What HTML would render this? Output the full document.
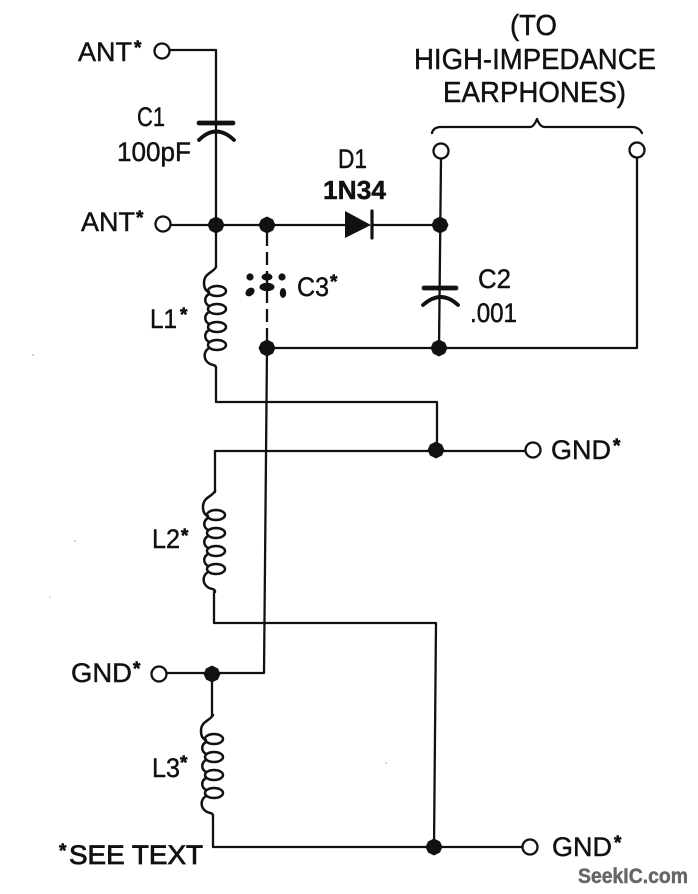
<!DOCTYPE html>
<html><head><meta charset="utf-8"><style>
html,body{margin:0;padding:0;background:#fff;width:698px;height:894px;overflow:hidden}
svg{display:block}
text{font-family:"Liberation Sans",sans-serif;fill:#111;font-size:27px;stroke:#111;stroke-width:.45px}
.s{font-weight:bold;font-size:19px;stroke:#111;stroke-width:.6px}
.w{fill:none;stroke:#111;stroke-width:2.3;stroke-linejoin:round;stroke-linecap:round}
.p{fill:none;stroke:#111;stroke-width:4.8;stroke-linecap:round}
.c{fill:#fff;stroke:#111;stroke-width:2.3}
.d{fill:#111;stroke:none}
</style></head><body>
<svg width="698" height="894" viewBox="0 0 698 894" xmlns="http://www.w3.org/2000/svg">
<defs>
<g id="coil" fill="none" stroke="#111" stroke-width="2.5" stroke-linecap="round">
<path d="M0,0 C-3,6 -12,6 -12,16 C-12,21 -10,24 -7,25"/>
<ellipse cx="1" cy="24" rx="9" ry="5"/>
<ellipse cx="1" cy="42" rx="9" ry="5"/>
<ellipse cx="1" cy="60" rx="9" ry="5"/>
<ellipse cx="1" cy="78" rx="9" ry="5"/>
<path d="M-7,27 C-12,30 -12,36 -7,39"/>
<path d="M-7,45 C-12,48 -12,54 -7,57"/>
<path d="M-7,63 C-12,66 -12,72 -7,75"/>
<path d="M-7,81 C-13,85 -13,93 -6,97 C-3,98 0,98 0,101"/>
</g>
<path id="j" d="M0,-8.5 L6,-5.5 L8.5,0 L6,5.5 L0,8.5 L-6,5.5 L-8.5,0 L-6,-5.5 Z"/>
</defs>

<!-- wires -->
<path class="w" d="M169,50 H216 V267"/>
<path class="w" d="M169,225 H345"/>
<path class="w" d="M372,225 H440"/>
<path class="w" d="M216,368 V402 H437 V450"/>
<path class="w" d="M215,492 V451 H525"/>
<path class="w" d="M214,592 V623 H436 L434,847"/>
<path class="w" d="M267,348 L264,673 H167"/>
<path class="w" d="M212,674 V716"/>
<path class="w" d="M213,816 V847 H522"/>
<path class="w" d="M441,159 L439,348"/>
<path class="w" d="M267,348 H637 V158"/>
<path class="w" stroke-dasharray="13 6" d="M267,233 V345" style="stroke-linecap:butt"/>

<!-- coils -->
<use href="#coil" x="216" y="267"/>
<use href="#coil" x="215" y="491"/>
<use href="#coil" x="213" y="715"/>

<!-- capacitors -->
<path class="p" d="M199,123 H233"/>
<path class="p" style="stroke-width:3.8" d="M199,140 Q216,123 234,140"/>
<path class="p" d="M424,288 H456"/>
<path class="p" style="stroke-width:3.8" d="M423,305 Q441,289 458,305"/>

<!-- C3 dots -->
<circle class="d" cx="250" cy="277" r="3.6"/>
<ellipse class="d" cx="267" cy="277" rx="5.5" ry="3.6"/>
<circle class="d" cx="282" cy="277" r="3.6"/>
<ellipse class="d" cx="267" cy="287" rx="7.5" ry="4.2"/>
<ellipse class="d" cx="250" cy="292" rx="5" ry="3.8" transform="rotate(-40 250 292)"/>
<ellipse class="d" cx="283" cy="293" rx="3.2" ry="5"/>

<!-- diode -->
<path class="d" d="M345,211 L345,238 L371,225 Z"/>
<path class="w" style="stroke-width:3.2" d="M372,211 V238"/>

<!-- brace -->
<path class="w" d="M432,133 C433,129 436,127 441,127 H530 C533,127 535,124 537,119 C539,124 541,127 545,127 H632 C637,127 640,129 642,133"/>

<!-- junctions -->
<use class="d" href="#j" x="216" y="225"/>
<use class="d" href="#j" x="267" y="225"/>
<use class="d" href="#j" x="440" y="225"/>
<use class="d" href="#j" x="267" y="348"/>
<use class="d" href="#j" x="439" y="348"/>
<use class="d" href="#j" x="436" y="450"/>
<use class="d" href="#j" x="212" y="674"/>
<use class="d" href="#j" x="434" y="847"/>

<!-- terminals -->
<circle class="c" cx="162" cy="51" r="7.5"/>
<circle class="c" cx="163" cy="224" r="7.5"/>
<circle class="c" cx="441" cy="151" r="7.5"/>
<circle class="c" cx="637" cy="150" r="7.5"/>
<circle class="c" cx="533" cy="450" r="7.5"/>
<circle class="c" cx="530" cy="847" r="7.5"/>
<circle class="c" cx="159" cy="674" r="7.5"/>

<!-- labels -->
<text x="78" y="61" textLength="54" lengthAdjust="spacingAndGlyphs">ANT</text>
<text class="s" x="134" y="54">*</text>
<text x="81" y="231" textLength="54" lengthAdjust="spacingAndGlyphs">ANT</text>
<text class="s" x="136" y="224">*</text>
<text x="137" y="126" textLength="28" lengthAdjust="spacingAndGlyphs">C1</text>
<text x="117" y="161" textLength="74" lengthAdjust="spacingAndGlyphs">100pF</text>
<text x="338" y="168" textLength="29" lengthAdjust="spacingAndGlyphs">D1</text>
<text x="323" y="199" textLength="63" lengthAdjust="spacingAndGlyphs" style="font-weight:bold;font-size:26px">1N34</text>
<text x="297" y="296" textLength="32" lengthAdjust="spacingAndGlyphs">C3</text>
<text class="s" x="330" y="288">*</text>
<text x="150" y="328" textLength="27" lengthAdjust="spacingAndGlyphs">L1</text>
<text class="s" x="180" y="321">*</text>
<text x="152" y="548" textLength="28" lengthAdjust="spacingAndGlyphs">L2</text>
<text class="s" x="181" y="542">*</text>
<text x="152" y="777" textLength="28" lengthAdjust="spacingAndGlyphs">L3</text>
<text class="s" x="180" y="769">*</text>
<text x="478" y="288" textLength="33" lengthAdjust="spacingAndGlyphs">C2</text>
<text x="470" y="322" textLength="47" lengthAdjust="spacingAndGlyphs">.001</text>
<text x="510" y="35" textLength="47" lengthAdjust="spacingAndGlyphs" style="font-size:29px">(TO</text>
<text x="414" y="69" textLength="242" lengthAdjust="spacingAndGlyphs" style="font-size:29px">HIGH-IMPEDANCE</text>
<text x="443" y="102" textLength="183" lengthAdjust="spacingAndGlyphs" style="font-size:29px">EARPHONES)</text>
<text x="551" y="459" textLength="60" lengthAdjust="spacingAndGlyphs">GND</text>
<text class="s" x="613" y="452">*</text>
<text x="552" y="856" textLength="60" lengthAdjust="spacingAndGlyphs">GND</text>
<text class="s" x="614" y="849">*</text>
<text x="71" y="682" textLength="61" lengthAdjust="spacingAndGlyphs">GND</text>
<text class="s" x="133" y="675">*</text>
<text class="s" x="59" y="857">*</text>
<text x="69" y="864" textLength="134" lengthAdjust="spacingAndGlyphs" style="stroke-width:.8px">SEE TEXT</text>
<text x="578" y="883" textLength="110" lengthAdjust="spacingAndGlyphs" style="font-weight:bold;font-size:21px;fill:#666;stroke:#666">SeekIC.com</text>

<!-- specks -->
<circle cx="33" cy="355" r=".8" fill="#999"/>
<circle cx="75" cy="541" r="1" fill="#ccc"/>
<circle cx="50" cy="597" r=".7" fill="#aaa"/>
<circle cx="386" cy="763" r="1" fill="#ccc"/>
</svg>
</body></html>
